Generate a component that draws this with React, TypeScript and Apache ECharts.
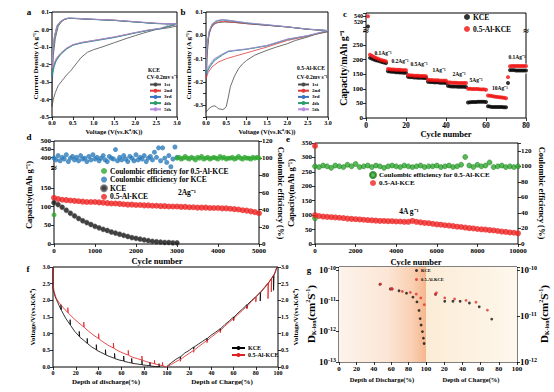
import React, { useEffect, useRef } from 'react';
import * as echarts from 'echarts';

const FONT = '"Liberation Serif", "Times New Roman", serif';

// ---------- a: CV of KCE (V, A g-1) ----------
const aCycle1 = [[3.0,0.02],[2.8,0.01],[2.5,0.0],[2.2,-0.02],[2.0,-0.035],[1.8,-0.05],[1.5,-0.075],[1.2,-0.1],[1.0,-0.115],[0.85,-0.13],[0.7,-0.16],[0.6,-0.19],[0.5,-0.22],[0.45,-0.235],[0.35,-0.26],[0.25,-0.29],[0.15,-0.32],[0.08,-0.36],[0.03,-0.4],[0.0,-0.44],[0.01,-0.3],[0.03,-0.15],[0.08,-0.05],[0.15,0.02],[0.25,0.05],[0.35,0.063],[0.5,0.064],[0.8,0.06],[1.0,0.058],[1.5,0.052],[2.0,0.043],[2.5,0.035],[2.8,0.033],[3.0,0.032]];
const aCycle2 = [[3.0,0.03],[2.6,0.006],[2.3,-0.004],[2.0,-0.018],[1.5,-0.043],[1.0,-0.063],[0.7,-0.075],[0.5,-0.088],[0.35,-0.108],[0.2,-0.14],[0.1,-0.17],[0.05,-0.2],[0.0,-0.24],[0.02,-0.12],[0.06,-0.04],[0.12,0.02],[0.2,0.045],[0.3,0.058],[0.4,0.064],[0.6,0.062],[1.0,0.058],[1.5,0.053],[2.0,0.044],[2.5,0.035],[3.0,0.03]];
const aCycle3 = [[3.0,0.03],[2.6,0.005],[2.3,-0.006],[2.0,-0.02],[1.5,-0.046],[1.0,-0.066],[0.7,-0.078],[0.5,-0.09],[0.35,-0.112],[0.2,-0.145],[0.1,-0.18],[0.05,-0.215],[0.0,-0.27],[0.02,-0.13],[0.06,-0.045],[0.12,0.018],[0.2,0.044],[0.3,0.058],[0.4,0.064],[0.6,0.062],[1.0,0.057],[1.5,0.052],[2.0,0.043],[2.5,0.034],[3.0,0.03]];
const aCycle4 = [[3.0,0.031],[2.6,0.006],[2.3,-0.005],[2.0,-0.019],[1.5,-0.044],[1.0,-0.064],[0.7,-0.076],[0.5,-0.089],[0.35,-0.11],[0.2,-0.142],[0.1,-0.175],[0.05,-0.205],[0.0,-0.255],[0.02,-0.125],[0.06,-0.042],[0.12,0.019],[0.2,0.045],[0.3,0.059],[0.4,0.065],[0.6,0.063],[1.0,0.058],[1.5,0.052],[2.0,0.043],[2.5,0.034],[3.0,0.031]];
const aCycle5 = [[3.0,0.025],[2.9,0.035],[2.6,0.007],[2.3,-0.003],[2.0,-0.017],[1.5,-0.042],[1.0,-0.062],[0.7,-0.074],[0.5,-0.086],[0.35,-0.105],[0.2,-0.135],[0.1,-0.165],[0.05,-0.19],[0.0,-0.22],[0.02,-0.11],[0.06,-0.035],[0.12,0.022],[0.2,0.047],[0.3,0.06],[0.4,0.066],[0.6,0.064],[1.0,0.059],[1.5,0.054],[2.0,0.045],[2.5,0.036],[3.0,0.032]];

// ---------- b: CV of 0.5-Al-KCE ----------
const bCycle1 = [[3.0,0.015],[2.7,0.005],[2.5,-0.007],[2.2,-0.022],[2.0,-0.036],[1.7,-0.052],[1.5,-0.064],[1.2,-0.085],[1.0,-0.107],[0.9,-0.122],[0.8,-0.143],[0.7,-0.175],[0.6,-0.22],[0.55,-0.264],[0.5,-0.304],[0.45,-0.315],[0.4,-0.318],[0.3,-0.314],[0.25,-0.305],[0.2,-0.302],[0.15,-0.305],[0.1,-0.31],[0.05,-0.318],[0.0,-0.33],[0.01,-0.2],[0.03,-0.08],[0.07,0.0],[0.12,0.03],[0.2,0.048],[0.3,0.055],[0.45,0.057],[0.7,0.055],[1.0,0.05],[1.5,0.043],[2.0,0.036],[2.5,0.026],[3.0,0.02]];
const bCycle2 = [[3.0,0.018],[2.5,-0.004],[2.0,-0.022],[1.5,-0.05],[1.0,-0.075],[0.7,-0.09],[0.5,-0.1],[0.3,-0.115],[0.15,-0.135],[0.05,-0.16],[0.0,-0.185],[0.01,-0.12],[0.04,-0.04],[0.08,0.01],[0.15,0.04],[0.25,0.055],[0.4,0.06],[0.6,0.058],[1.0,0.05],[1.5,0.043],[2.0,0.036],[2.5,0.026],[3.0,0.02]];
const bCycle3 = [[3.0,0.02],[2.5,-0.002],[2.0,-0.018],[1.5,-0.045],[1.0,-0.06],[0.7,-0.066],[0.55,-0.07],[0.4,-0.085],[0.2,-0.11],[0.08,-0.14],[0.0,-0.17],[0.01,-0.1],[0.04,-0.03],[0.08,0.015],[0.15,0.045],[0.25,0.06],[0.4,0.066],[0.6,0.062],[1.0,0.052],[1.5,0.044],[2.0,0.036],[2.5,0.026],[3.0,0.02]];
const bCycle4 = [[3.0,0.02],[2.5,-0.002],[2.0,-0.017],[1.5,-0.044],[1.0,-0.059],[0.7,-0.065],[0.55,-0.068],[0.4,-0.082],[0.2,-0.105],[0.08,-0.135],[0.0,-0.16],[0.01,-0.095],[0.04,-0.028],[0.08,0.017],[0.15,0.047],[0.25,0.061],[0.4,0.067],[0.6,0.063],[1.0,0.053],[1.5,0.045],[2.0,0.036],[2.5,0.027],[3.0,0.02]];
const bCycle5 = [[3.0,0.021],[2.5,-0.001],[2.0,-0.016],[1.5,-0.043],[1.0,-0.058],[0.7,-0.064],[0.55,-0.067],[0.4,-0.08],[0.2,-0.1],[0.08,-0.128],[0.0,-0.15],[0.01,-0.09],[0.04,-0.025],[0.08,0.02],[0.15,0.05],[0.25,0.063],[0.4,0.068],[0.6,0.064],[1.0,0.054],[1.5,0.046],[2.0,0.037],[2.5,0.027],[3.0,0.021]];
const cycleNames = ['1st', '2nd', '3rd', '4th', '5th'];
const cycleColors = ['#4a4a4a', '#e03a3a', '#3a72c6', '#2a9d6a', '#b98be0'];

// ---------- c: rate performance (cycle 1..80, mAh g-1) ----------
const cKceDis = [502,206,203,200,198,196,194,192,190,188,160,159,158,158,157,157,156,156,155,155,141,140,140,139,139,138,138,138,137,137,124,123,123,122,122,122,121,121,121,120,110,109,108,108,108,107,107,107,107,106,53,54,55,55,55,56,56,56,56,55,40,39,38,38,38,38,38,38,37,37,120,164,164,164,163,163,163,163,163,163];
const cAlDis = [540,217,213,209,206,203,200,198,196,194,168,167,166,166,165,165,165,164,164,164,147,146,146,145,145,145,144,144,144,143,131,130,130,129,129,129,128,128,128,128,122,122,121,121,121,120,120,120,120,120,100,100,99,99,99,99,98,98,98,97,77,76,75,74,73,72,71,70,69,68,140,177,178,178,178,178,178,178,178,178];
const cKceCh = [null,172,174,175,176,177,177,178,179,180,157,157,156,156,155,155,155,154,154,154,139,138,138,137,137,137,136,136,136,136,122,121,121,120,120,120,120,119,119,119,106,106,105,105,105,105,105,105,104,104,50,52,53,54,54,54,54,54,54,54,36,37,37,37,37,37,36,36,36,36,112,161,162,162,162,162,162,162,162,162];
const cAlCh = [null,175,177,178,179,180,181,182,183,184,164,164,163,163,163,163,162,162,162,162,144,144,143,143,143,143,142,142,142,142,128,128,127,127,127,127,126,126,126,126,118,118,118,118,118,118,117,117,117,117,95,96,96,96,96,96,96,95,95,95,72,72,71,71,70,70,69,68,67,67,132,174,176,176,176,176,176,176,176,176];
const cRateLabels = ['0.1Ag⁻¹', '0.2Ag⁻¹', '0.5Ag⁻¹', '1Ag⁻¹', '2Ag⁻¹', '5Ag⁻¹', '10Ag⁻¹', '0.1Ag⁻¹'];

// ---------- d: long cycling at 2 A g-1 ----------
const dCapStep = 100;
const dCapAl = [123,120,118,117,116,115,114,113,112,112,112,111,110,109,108,108,107,106,105,105,104,104,103,103,102,102,101,101,100,100,100,99,99,98,98,97,97,97,96,96,96,95,95,94,93,92,90,89,87,85,82];
const dCapKce = [110,105,98,90,82,75,68,62,57,52,47,43,39,36,32,29,26,23,20,17,15,13,11,9,7,6,5,4,4,3,3];
const dCeStep = 50;
const dCeKce = [100,98,103,97,101,99,104,96,100,102,98,101,97,103,99,100,96,102,98,104,99,101,97,100,103,98,96,102,100,99,110,97,101,98,103,99,96,102,100,97,104,98,101,99,103,96,100,102,98,107,101,112,97,112,100,95,103,90,99,113,101];
const dCeAlStart = 3000;
const dCeAl = [100,101,99,100,102,100,99,101,100,98,101,100,102,99,100,101,99,100,101,100,99,102,100,101,99,100,100,101,99,100,102,100,99,101,100,100,99,101,100,101,100];
const dCeAlFirst = 34;

// ---------- e: long cycling at 4 A g-1 ----------
const eStep = 200;
const eCapAl = [100,97,95,94,93,92,91,90,88,87,86,85,84,83,82,81,80,80,79,79,78,78,77,77,80,77,75,73,72,70,68,67,65,64,62,60,59,57,55,54,52,51,50,48,47,45,43,42,40,39,37];
const eCapAlFirst = 340;
const eCeAl = [100,99,101,100,98,101,100,99,102,100,103,99,100,101,99,101,100,98,100,101,100,99,101,100,99,100,101,99,100,100,101,99,100,101,99,100,102,112,101,99,102,100,101,105,99,100,101,99,100,99,100];
const eCeAlFirst = 33;

// ---------- f: GITT (depth %, V) ----------
const fDisKce = [[0,3.0],[0,2.35],[2,2.1],[4,1.95],[7,1.72],[7,1.87],[7.4,1.7],[11,1.47],[15,1.27],[15,1.42],[15.4,1.25],[19,1.07],[23,0.92],[23,1.07],[23.4,0.9],[27,0.8],[30,0.71],[30,0.86],[30.4,0.7],[34,0.6],[38,0.52],[38,0.67],[38.4,0.5],[42,0.44],[46,0.37],[46,0.52],[46.4,0.36],[50,0.31],[54,0.26],[54,0.41],[54.4,0.25],[58,0.21],[62,0.18],[62,0.33],[62.4,0.17],[66,0.14],[69,0.12],[69,0.26],[69.4,0.11],[74,0.09],[78,0.07],[78,0.2],[78.4,0.06],[82,0.05],[85,0.04],[85,0.15],[85.4,0.03],[90,0.015],[93,0.005],[93,0.1],[93.4,0.0]];
const fDisAl = [[0,3.0],[0,2.5],[1,2.25],[3,2.05],[6,1.9],[10,1.74],[13,1.63],[13,1.78],[13.4,1.62],[18,1.46],[22,1.34],[27,1.2],[27,1.35],[27.4,1.19],[31,1.08],[35,0.97],[40,0.85],[40,1.0],[40.4,0.84],[44,0.75],[48,0.66],[53,0.57],[53,0.72],[53.4,0.56],[58,0.47],[62,0.41],[66,0.36],[66,0.5],[66.4,0.35],[70,0.29],[74,0.25],[78,0.21],[78,0.33],[78.4,0.2],[82,0.16],[86,0.12],[89,0.1],[89,0.2],[89.4,0.09],[93,0.06],[96,0.04],[96,0.14],[96.4,0.03],[99,0.01]];
const fChKce = [[0,0.02],[4,0.13],[8,0.23],[12,0.31],[12,0.24],[12.4,0.31],[16,0.42],[20,0.5],[24,0.6],[24,0.53],[24.4,0.6],[28,0.68],[32,0.77],[36,0.86],[36,0.78],[36.4,0.86],[40,0.96],[44,1.05],[48,1.15],[48,1.07],[48.4,1.15],[52,1.27],[56,1.38],[60,1.5],[60,1.41],[60.4,1.5],[64,1.62],[68,1.74],[72,1.87],[72,1.77],[72.4,1.87],[76,1.99],[80,2.11],[84,2.24],[84,1.98],[84.4,2.24],[88,2.38],[92,2.55],[96,2.75],[96,2.3],[96.4,2.75],[98,2.88],[99,3.0]];
const fChAl = [[0,0.0],[4,0.08],[8,0.16],[12,0.23],[12,0.17],[12.4,0.23],[16,0.32],[20,0.41],[24,0.5],[24,0.44],[24.4,0.5],[28,0.6],[32,0.7],[36,0.8],[36,0.73],[36.4,0.8],[40,0.9],[44,1.0],[48,1.11],[48,1.03],[48.4,1.11],[52,1.22],[56,1.34],[60,1.46],[60,1.38],[60.4,1.46],[64,1.58],[68,1.7],[72,1.83],[72,1.74],[72.4,1.83],[76,1.96],[80,2.1],[80,1.95],[80.4,2.1],[84,2.24],[88,2.4],[91,2.52],[91,2.05],[91.4,2.52],[94,2.65],[94,2.25],[94.4,2.65],[97,2.82],[99,3.0]];

// ---------- g: diffusion coefficient (depth %, cm2 s-1) ----------
const gDisKce = [[47,3.4e-11],[59,2.4e-11],[61,2.4e-11],[69,2.1e-11],[77.6,1.75e-11],[85,1.3e-11],[89.6,9.1e-12],[92,4.8e-12],[93.3,2.6e-12],[94.4,1.6e-12],[95.9,9.8e-13],[97,6e-13],[97.8,4e-13]];
const gDisAl = [[47.8,3.5e-11],[59.5,2.45e-11],[61,2.45e-11],[72.8,2.0e-11],[82,1.86e-11],[88.8,1.64e-11],[94,1.23e-11],[98,7.4e-12]];
const gChKce = [[10.5,1.6e-11],[20.6,9.5e-12],[29.6,9.5e-12],[37.5,9.5e-12],[47.7,8.4e-12],[58.5,6.3e-12],[72.2,2.5e-12]];
const gChAl = [[10.5,1.64e-11],[11.5,1.8e-11],[20.6,1.23e-11],[31.4,1.13e-11],[44,1.02e-11],[54.9,8.9e-12],[67.5,4.9e-12]];

// ---------- helpers ----------
const plainNum = (v: number) => String(v);
const lbl = (size: number, fmt?: any, extra: any = {}) => ({
  fontFamily: FONT, fontWeight: 'bold', fontSize: size, color: '#000', margin: 3, formatter: fmt || plainNum, ...extra,
});
const tick = { show: true, length: 3, lineStyle: { color: '#000', width: 0.8 } };
function vAxis(grid: number, min: number, max: number, interval: number, size: number, fmt?: any, extra: any = {}) {
  return {
    type: 'value', gridIndex: grid, min, max, interval,
    axisLine: { show: false, onZero: false }, axisTick: tick,
    axisLabel: lbl(size, fmt), splitLine: { show: false }, ...extra,
  };
}
const hAxis = (grid: number, min: number, max: number, extra: any = {}) => ({ type: 'value', gridIndex: grid, min, max, show: false, ...extra });
const box = (left: number, top: number, width: number, height: number, extra: any = {}) => ({
  left, top, width, height, show: true, borderColor: '#000', borderWidth: 1, backgroundColor: 'transparent', ...extra,
});
const plain = (left: number, top: number, width: number, height: number) => ({ left, top, width, height, show: false });
const f1 = (v: number) => (Math.abs(v) < 1e-9 ? '0.0' : v.toFixed(1));
const txt = (x: number, y: number, text: string, size: number, extra: any = {}) => ({
  type: 'text', x, y, z: 100, rotation: extra.rotation || 0,
  style: { text, fontFamily: FONT, fontWeight: 'bold', fontSize: size, fill: '#000', align: extra.align || 'center', verticalAlign: 'middle', rich: extra.rich },
});
const logFmt = (v: number) => {
  const e = Math.log10(v);
  if (Math.abs(e - Math.round(e)) > 0.02) return '';
  return '10{s|' + Math.round(e) + '}';
};
const logRich = { s: { fontFamily: FONT, fontWeight: 'bold', fontSize: 6, verticalAlign: 'top', padding: [0, 0, 4, 0] } };
const dRich = {
  m: { fontFamily: FONT, fontWeight: 'bold', fontSize: 11 },
  s: { fontFamily: FONT, fontWeight: 'bold', fontSize: 6, padding: [5, 0, 0, 0] },
  p: { fontFamily: FONT, fontWeight: 'bold', fontSize: 6, padding: [0, 0, 6, 0] },
};
const dName = '{m|D}{s|K-ion}{m|(cm}{p|2}{m|S}{p|-1}{m|)}';
const strip = (n: string) => n.slice(2);
const legendBase = (left: number, top: number, data: string[], size: number, gap: number, w: number, h: number, icon?: string) => ({
  show: true, left, top, orient: 'vertical', data, itemGap: gap, itemWidth: w, itemHeight: h, padding: 0,
  selectedMode: false, formatter: strip, icon,
  textStyle: { fontFamily: FONT, fontWeight: 'bold', fontSize: size, color: '#000', padding: [0, 0, 0, -2] },
});

export default function App() {
  const ref = useRef<HTMLDivElement>(null);
  useEffect(() => {
    if (!ref.current) return;
    const chart = echarts.init(ref.current, undefined, { renderer: 'svg' });

    const grid: any[] = [
      box(52, 12, 125, 105),            // 0 a
      box(206, 12, 122, 105),           // 1 b
      box(366, 13, 160, 105),           // 2 c frame
      plain(366, 13, 160, 14),          // 3 c upper
      plain(366, 31, 160, 87),          // 4 c lower
      box(54, 141, 205, 103),           // 5 d full
      plain(54, 141, 205, 25),          // 6 d high
      plain(54, 169, 205, 75),          // 7 d low
      box(315, 143, 203, 101),          // 8 e
      box(53, 267, 225, 100),           // 9 f frame
      plain(53, 267, 114, 100),         // 10 f left
      plain(167, 267, 111, 100),        // 11 f right
      box(339, 267, 178, 95),           // 12 g frame
      plain(339, 267, 87, 95),          // 13 g left
      plain(426, 267, 91, 95),          // 14 g right
    ];
    grid[13] = { ...grid[13], show: true, borderWidth: 0, backgroundColor: new echarts.graphic.LinearGradient(0, 0, 1, 0, [
      { offset: 0, color: '#fdf3eb' }, { offset: 0.55, color: '#fce6d6' }, { offset: 0.85, color: '#f9cfb2' }, { offset: 1, color: '#f5b68c' }]) };
    grid[14] = { ...grid[14], show: true, borderWidth: 0, backgroundColor: new echarts.graphic.LinearGradient(0, 0, 1, 0, [
      { offset: 0, color: '#fbecd6' }, { offset: 1, color: '#fef7ec' }]) };

    const xAxis = [
      vAxis(0, 0, 3, 0.5, 6, f1),
      vAxis(1, 0, 3, 0.5, 6, f1),
      hAxis(2, 0, 1),
      hAxis(3, 0, 80),
      vAxis(4, 0, 80, 20, 7.5),
      vAxis(5, 0, 5000, 1000, 7),
      hAxis(6, 0, 5000),
      hAxis(7, 0, 5000),
      vAxis(8, 0, 10000, 2000, 7),
      hAxis(9, 0, 1),
      vAxis(10, 0, 100, 20, 6),
      vAxis(11, 0, 100, 20, 6, (v: number) => (v === 0 ? '' : String(v))),
      hAxis(12, 0, 1),
      vAxis(13, 0, 100, 20, 7),
      vAxis(14, 0, 100, 20, 7, (v: number) => (v === 0 ? '' : String(v))),
    ];
    const yAxis = [
      vAxis(0, -0.5, 0.1, 0.1, 6, f1),
      vAxis(1, -0.35, 0.1, 0.05, 6, (v: number) => (Math.abs(Math.round(v * 100)) % 10 === 0 ? f1(v) : '')),
      hAxis(2, 0, 1),
      vAxis(3, 500, 552, 20, 6, (v: number) => (v === 520 || v === 540 ? String(v) : '')),
      vAxis(4, 0, 298, 50, 7, (v: number) => (v % 50 === 0 && v <= 250 ? String(v) : '')),
      vAxis(5, 0, 120, 20, 7, undefined, { position: 'right' }),
      vAxis(6, 350, 500, 50, 7, (v: number) => (v >= 400 ? String(v) : '')),
      vAxis(7, 0, 200, 50, 7, (v: number) => (v < 200 ? String(v) : '')),
      vAxis(8, 0, 350, 50, 7),
      vAxis(8, 0, 130, 20, 7, (v: number) => (v <= 120 ? String(v) : ''), { position: 'right' }),
      hAxis(9, 0, 1),
      vAxis(10, 0, 3, 0.5, 6, f1),
      vAxis(11, 0, 3, 0.5, 6, f1, { position: 'right' }),
      hAxis(12, 0, 1),
      { type: 'log', logBase: 10, gridIndex: 13, min: 1e-13, max: 1.25e-10, axisLine: { show: false, onZero: false }, axisTick: tick,
        axisLabel: lbl(9, logFmt, { rich: logRich }), splitLine: { show: false }, minorTick: { show: false } },
      { type: 'log', logBase: 10, gridIndex: 14, min: 1e-13, max: 1.25e-10, show: false },
      { type: 'log', logBase: 10, gridIndex: 14, min: 1e-12, max: 1.16e-10, position: 'right', axisLine: { show: false, onZero: false }, axisTick: tick,
        axisLabel: lbl(9, logFmt, { rich: logRich }), splitLine: { show: false }, minorTick: { show: false } },
    ];

    const series: any[] = [];
    const line = (name: string, xi: number, yi: number, data: any, color: string, width = 0.8) =>
      series.push({ type: 'line', name, xAxisIndex: xi, yAxisIndex: yi, data, symbol: 'none', color, lineStyle: { color, width }, z: 3 });
    const dots = (name: string, xi: number, yi: number, data: any, color: string, size: number, extra: any = {}) =>
      series.push({ type: 'scatter', name, xAxisIndex: xi, yAxisIndex: yi, data, symbol: 'circle', symbolSize: size, color, itemStyle: { color, ...(extra.itemStyle || {}) }, z: extra.z || 3 });

    [aCycle1, aCycle2, aCycle3, aCycle4, aCycle5].forEach((d, i) => line('a:' + cycleNames[i], 0, 0, d, cycleColors[i]));
    [bCycle1, bCycle2, bCycle3, bCycle4, bCycle5].forEach((d, i) => line('b:' + cycleNames[i], 1, 1, d, cycleColors[i]));

    const cPts = (arr: (number | null)[], upper: boolean) =>
      arr.map((v, i) => [i + 1, v]).filter((p) => p[1] != null && (upper ? (p[1] as number) > 400 : (p[1] as number) <= 400));
    series.push({ type: 'scatter', name: 'c:KCE charge', xAxisIndex: 4, yAxisIndex: 4, data: cPts(cKceCh, false), symbol: 'emptyCircle', symbolSize: 4, itemStyle: { color: '#fff', borderColor: '#777', borderWidth: 0.8 }, z: 2 });
    series.push({ type: 'scatter', name: 'c:Al charge', xAxisIndex: 4, yAxisIndex: 4, data: cPts(cAlCh, false), symbol: 'emptyCircle', symbolSize: 4, itemStyle: { color: '#fff', borderColor: '#f07070', borderWidth: 0.8 }, z: 2 });
    dots('c:KCE', 4, 4, cPts(cKceDis, false), '#000', 4);
    dots('c:0.5-Al-KCE', 4, 4, cPts(cAlDis, false), '#f01010', 4);
    dots('c:KCE', 3, 3, cPts(cKceDis, true), '#000', 4);
    dots('c:0.5-Al-KCE', 3, 3, cPts(cAlDis, true), '#f01010', 4);

    dots('d:Coulombic efficiency for KCE', 5, 5, dCeKce.map((v, i) => [i * dCeStep, v]), '#2b7bba', 5);
    dots('d:Coulombic efficiency for 0.5-Al-KCE', 5, 5, [[1, dCeAlFirst], ...dCeAl.map((v, i) => [dCeAlStart + i * dCeStep, v])], '#2fa82f', 5);
    dots('d:0.5-Al-KCE', 7, 7, dCapAl.map((v, i) => [i * dCapStep, v]), '#ee2222', 6);
    dots('d:KCE', 7, 7, dCapKce.map((v, i) => [i * dCapStep, v]), '#111', 5, { itemStyle: { borderColor: '#666', borderWidth: 0.6 }, z: 4 });

    dots('e:Coulombic efficiency for 0.5-Al-KCE', 8, 9, [[1, eCeAlFirst], ...eCeAl.map((v, i) => [i * eStep, v])], '#2fa82f', 5, { itemStyle: { borderColor: '#1c7a1c', borderWidth: 0.6 } });
    dots('e:0.5-Al-KCE', 8, 8, [[1, eCapAlFirst], ...eCapAl.map((v, i) => [i * eStep, v])], '#ee2222', 6);

    line('f:KCE', 10, 11, fDisKce, '#000');
    line('f:0.5-Al-KCE', 10, 11, fDisAl, '#e02020');
    line('f:KCE', 11, 12, fChKce, '#000');
    line('f:0.5-Al-KCE', 11, 12, fChAl, '#e02020');

    dots('g:KCE', 13, 14, gDisKce, '#111', 2.8);
    dots('g:0.5-Al-KCE', 13, 14, gDisAl, '#e03030', 2.8);
    dots('g:KCE', 14, 15, gChKce, '#111', 2.8);
    dots('g:0.5-Al-KCE', 14, 15, gChAl, '#e03030', 2.8);

    const legend = [
      legendBase(149, 82, cycleNames.map((n) => 'a:' + n), 5, 1.2, 11, 5),
      legendBase(297, 82, cycleNames.map((n) => 'b:' + n), 5, 1.2, 11, 5),
      legendBase(464, 13, ['c:KCE', 'c:0.5-Al-KCE'], 7.5, 4, 6, 6, 'circle'),
      legendBase(100, 167, ['d:Coulombic efficiency for 0.5-Al-KCE', 'd:Coulombic efficiency for KCE', 'd:KCE', 'd:0.5-Al-KCE'], 7.5, 0.6, 6, 6, 'circle'),
      legendBase(369, 171, ['e:Coulombic efficiency for 0.5-Al-KCE', 'e:0.5-Al-KCE'], 7, 0.5, 6, 6, 'circle'),
      legendBase(231, 345, ['f:KCE', 'f:0.5-Al-KCE'], 6, 1, 13, 5),
      legendBase(415, 268, ['g:KCE', 'g:0.5-Al-KCE'], 4.5, 4, 3, 3, 'circle'),
    ];

    const cLabelPos = [[383, 53], [400, 61], [419, 64], [439, 70], [459, 74], [476, 80], [500, 88], [517, 57]];
    const graphic: any[] = [
      txt(29, 12, 'a', 9), txt(183, 12, 'b', 9), txt(345, 14, 'c', 9), txt(29, 137, 'd', 9),
      txt(288, 139, 'e', 9), txt(28, 269, 'f', 9), txt(309, 270, 'g', 9),
      txt(154, 70, 'KCE', 5.5), txt(162, 77, 'CV-0.2mv s⁻¹', 5.5),
      txt(311, 68, '0.5-Al-KCE', 5.5), txt(312, 77, 'CV-0.2mv s⁻¹', 5.5),
      txt(36, 65, 'Current Density (A g⁻¹)', 7, { rotation: Math.PI / 2 }),
      txt(114, 131, 'Voltage (V(vs.K⁺/K))', 6.5),
      txt(189, 65, 'Current Density (A g⁻¹)', 7, { rotation: Math.PI / 2 }),
      txt(267, 131, 'Voltage (V(vs.K⁺/K))', 6.5),
      txt(343, 68, 'Capacity/mAh g⁻¹', 10, { rotation: Math.PI / 2 }),
      txt(446, 134, 'Cycle number', 8.5),
      ...cRateLabels.map((t, i) => txt(cLabelPos[i][0], cLabelPos[i][1], t, 5.5)),
      txt(366, 30, '≈', 10), txt(526, 30, '≈', 10),
      txt(29, 195, 'Capacity(mAh g⁻¹)', 8.5, { rotation: Math.PI / 2 }),
      txt(281, 193, 'Coulombic efficiency (%)', 8.5, { rotation: -Math.PI / 2 }),
      txt(157, 261, 'Cycle number', 8.5),
      txt(54, 167, '≈', 10),
      txt(187, 192, '2Ag⁻¹', 7.5),
      txt(291, 193, 'Capacity(mAh g⁻¹)', 8.5, { rotation: Math.PI / 2 }),
      txt(542, 193, 'Coulombic efficiency (%)', 8.5, { rotation: -Math.PI / 2 }),
      txt(416, 262, 'Cycle number', 8.5),
      txt(409, 211, '4A g⁻¹', 7.5),
      txt(33, 317, 'Voltage/V(vs.K/K⁺)', 7, { rotation: Math.PI / 2 }),
      txt(296, 317, 'Voltage/V(vs.K/K⁺)', 7, { rotation: Math.PI / 2 }),
      txt(106, 382, 'Depth of discharge(%)', 7),
      txt(222, 382, 'Depth of Charge(%)', 7),
      txt(311, 314, dName, 11, { rotation: Math.PI / 2, rich: dRich }),
      txt(544, 314, dName, 11, { rotation: Math.PI / 2, rich: dRich }),
      txt(382, 379, 'Depth of Discharge(%)', 6.5),
      txt(471, 379, 'Depth of Charge(%)', 6.5),
    ];

    chart.setOption({
      animation: false,
      backgroundColor: '#fff',
      textStyle: { fontFamily: FONT },
      grid, xAxis, yAxis, series, legend, graphic,
    } as any);
    return () => chart.dispose();
  }, []);
  return <div ref={ref} style={{ position: 'fixed', left: 0, top: 0, width: 554, height: 392 }} />;
}
